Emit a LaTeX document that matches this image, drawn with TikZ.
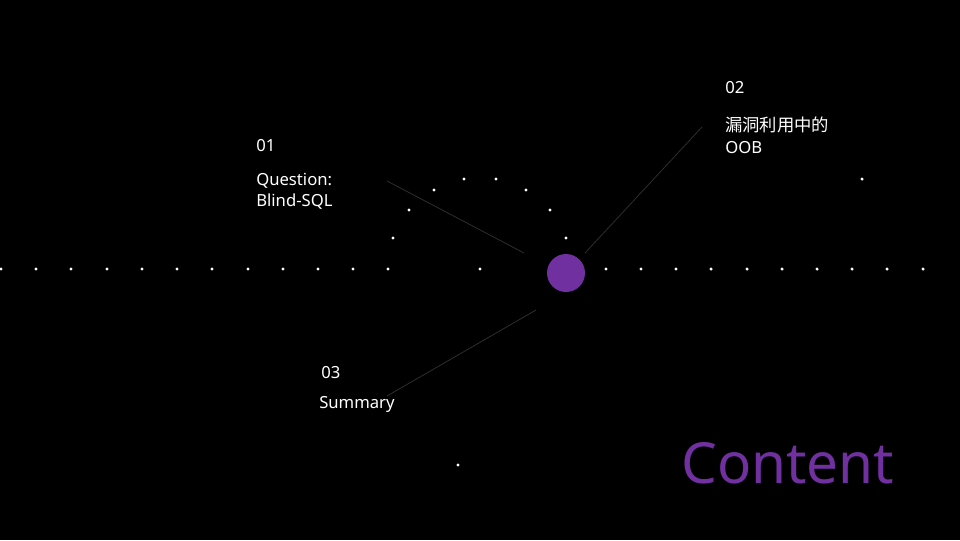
\documentclass[tikz,border=0pt]{standalone}
\usepackage{fontspec}
\setmainfont{Noto Sans}
\newfontfamily\cjk{Noto Sans CJK SC}
\definecolor{mypurple}{HTML}{7030A0}
\definecolor{linegray}{HTML}{2E2E2E}
\begin{document}
\begin{tikzpicture}[x=0.75pt,y=-0.75pt,
  dot/.style={circle,fill=white,inner sep=0pt,minimum size=2.6pt},
  conn/.style={draw=linegray,line width=0.6pt},
  lbl/.style={text=white,anchor=west,inner sep=0pt,font=\fontsize{12.5}{16}\selectfont,align=left}]
\fill[black] (0,0) rectangle (960,540);
\useasboundingbox (0,0) rectangle (960,540);
% horizontal dots
\foreach \x [count=\i] in {1,36,71,107,142,177,212,248,283,318,353,388,480,606,641,676,711,747,782,817,852,887,923}
  \node[dot] (h\i) at (\x,269) {};
% arc dots
\node[dot] (a1) at (393,238) {};
\node[dot] (a2) at (409,210) {};
\node[dot] (a3) at (434,190) {};
\node[dot] (a4) at (464,179) {};
\node[dot] (a5) at (496,179) {};
\node[dot] (a6) at (526,190) {};
\node[dot] (a7) at (550,210) {};
\node[dot] (a8) at (566,238) {};
\node[dot] (s1) at (862,179) {};
\node[dot] (s2) at (458,465) {};
% center circle
\node[circle,fill=mypurple,inner sep=0pt,minimum size=28.5pt] (c) at (566,273) {};
% connectors
\coordinate (l1a) at (387,181); \coordinate (l1b) at (524,253);
\coordinate (l2a) at (585,253); \coordinate (l2b) at (702,127);
\coordinate (l3a) at (536,310); \coordinate (l3b) at (387,396);
\draw[conn] (l1a) -- (l1b);
\draw[conn] (l2a) -- (l2b);
\draw[conn] (l3a) -- (l3b);
% labels
\node[lbl] (n1) at (256,146) {01};
\node[lbl,anchor=north west] (t1) at (256,173) {Question:\\Blind-SQL};
\node[lbl] (n2) at (725,88) {02};
\node[lbl,anchor=north west] (t2) at (725,117) {{\cjk\fontsize{13}{16}\selectfont 漏洞利用中的}\\OOB};
\node[lbl] (n3) at (321,373) {03};
\node[lbl] (t3) at (319,404) {Summary};
\node[text=mypurple,anchor=west,inner sep=0pt,font=\fontsize{42.5}{50}\selectfont] (ct) at (681,463) {Content};
\end{tikzpicture}
\end{document}
